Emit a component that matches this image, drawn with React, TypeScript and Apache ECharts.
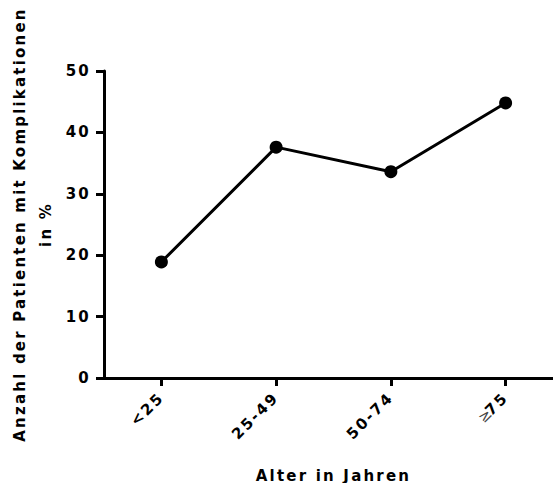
import React, { useEffect, useRef } from "react";
import * as echarts from "echarts";

// Age groups and share of patients with complications (%)
const ageGroups = ["<25", "25-49", "50-74", "≥75"];
const complicationRate = [18.9, 37.6, 33.6, 44.8];
const yTicks = { min: 0, max: 50, interval: 10 };

const FONT = "DejaVu Sans";
const SIZE = 15;

export default function App() {
  const ref = useRef<HTMLDivElement>(null);

  useEffect(() => {
    if (!ref.current) return;
    const chart = echarts.init(ref.current, null, { renderer: "svg" });
    chart.setOption({
      animation: false,
      backgroundColor: "#ffffff",
      grid: {
        left: 104,
        top: 71,
        width: 459,
        height: 307,
        containLabel: false,
        outerBoundsMode: "none",
      },
      xAxis: {
        type: "category",
        data: ageGroups,
        boundaryGap: true,
        axisLine: { show: true, lineStyle: { color: "#000", width: 3 } },
        axisTick: { show: true, alignWithLabel: true, length: 8, lineStyle: { color: "#000", width: 3 } },
        axisLabel: {
          rotate: 45,
          margin: 17,
          color: "#000",
          fontFamily: FONT,
          fontWeight: "bold",
          fontSize: SIZE,
          formatter: (v: string) => (v.startsWith("≥") ? `{thin|≥}{b|${v.slice(1)}}` : v),
          rich: {
            thin: { fontFamily: FONT, fontWeight: "normal", fontSize: SIZE, color: "#444" },
            b: { fontFamily: FONT, fontWeight: "bold", fontSize: SIZE, color: "#000" },
          },
        },
        name: "Alter in Jahren",
        nameLocation: "middle",
        nameGap: 90,
        nameTextStyle: { color: "#000", fontFamily: FONT, fontWeight: "bold", fontSize: SIZE },
        splitLine: { show: false },
      },
      yAxis: {
        type: "value",
        min: yTicks.min,
        max: yTicks.max,
        interval: yTicks.interval,
        axisLine: { show: true, lineStyle: { color: "#000", width: 3 } },
        axisTick: { show: true, length: 8, lineStyle: { color: "#000", width: 3 } },
        axisLabel: { margin: 13, color: "#000", fontFamily: FONT, fontWeight: "bold", fontSize: SIZE },
        splitLine: { show: false },
        name: "Anzahl der Patienten mit Komplikationen\nin %",
        nameLocation: "middle",
        nameGap: 44,
        nameTextStyle: {
          color: "#000",
          fontFamily: FONT,
          fontWeight: "bold",
          fontSize: SIZE,
          lineHeight: 26,
          align: "center",
        },
      },
      series: [
        {
          type: "line",
          data: complicationRate,
          symbol: "circle",
          symbolSize: 13,
          lineStyle: { color: "#000", width: 3 },
          itemStyle: { color: "#000" },
          silent: true,
        },
      ],
    });
    return () => chart.dispose();
  }, []);

  return (
    <>
      <style>{".chart-box text { letter-spacing: 2.2px; }"}</style>
      <div
        ref={ref}
        className="chart-box"
        style={{ position: "fixed", left: 0, top: 0, width: 553, height: 483 }}
      />
    </>
  );
}
